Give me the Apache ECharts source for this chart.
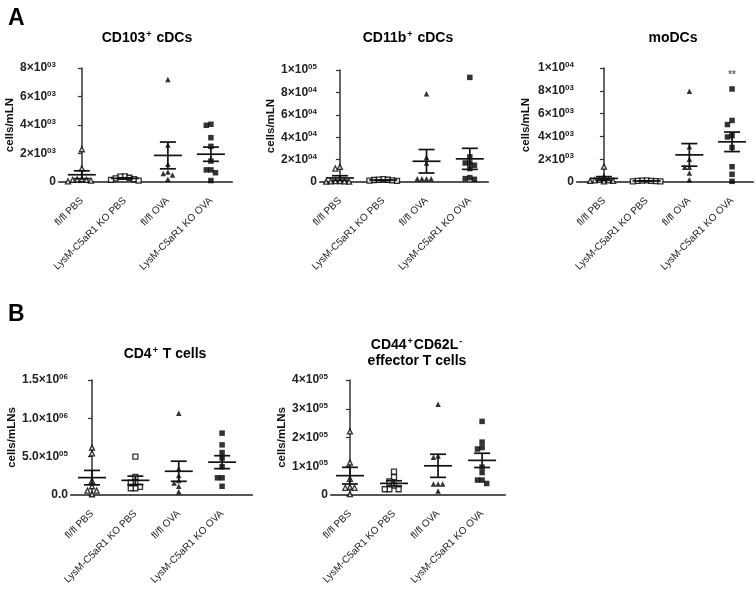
<!DOCTYPE html>
<html><head><meta charset="utf-8">
<script src="https://cdn.jsdelivr.net/npm/echarts@6/dist/echarts.min.js"></script>
<style>html,body{margin:0;padding:0;background:#fff}#c{width:756px;height:590px}</style>
</head><body><div id="c"></div><script>
// ---------- data ----------
const categories = ['fl/fl PBS', 'LysM-C5aR1 KO PBS', 'fl/fl OVA', 'LysM-C5aR1 KO OVA'];

const cd103_flPBS = [2300, 950, 200, 180, 150, 150, 100, 50];
const cd103_koPBS = [400, 380, 300, 250, 200, 150, 100];
const cd103_flOVA = [7200, 2600, 1250, 700, 600, 500, 200];
const cd103_koOVA = [4050, 3980, 3110, 2500, 1470, 850, 850, 650, 100];

const cd11b_flPBS = [13500, 12000, 800, 700, 600, 500, 400, 300];
const cd11b_koPBS = [2500, 2200, 2000, 1800, 1500, 1200, 1000];
const cd11b_flOVA = [78800, 21800, 17000, 3000, 3000, 3000, 3000];
const cd11b_koOVA = [93400, 22400, 17000, 17000, 15000, 12000, 3900, 3000, 2400];

const modc_flPBS = [1350, 450, 200, 150, 150, 100, 100, 50];
const modc_koPBS = [150, 120, 100, 100, 80, 60, 50];
const modc_flOVA = [7950, 3100, 2000, 1300, 1300, 800, 200];
const modc_koOVA = [8160, 5400, 5040, 4060, 3950, 3030, 1340, 680, 60];

const cd4_flPBS = [618000, 544000, 185000, 114000, 57000, 57000, 10000];
const cd4_koPBS = [500000, 237000, 160000, 160000, 105000, 88000, 88000];
const cd4_flOVA = [1066000, 342000, 254000, 190000, 158000, 114000, 44000];
const cd4_koOVA = [807000, 654000, 553000, 482000, 368000, 224000, 224000, 114000];

const eff_flPBS = [221000, 113000, 56000, 28000, 25000, 25000, 3000];
const eff_koPBS = [81000, 62000, 47000, 33000, 20000, 20000, 20000];
const eff_flOVA = [316000, 136000, 131000, 38000, 38000, 38000, 14000];
const eff_koOVA = [256000, 184000, 165000, 160000, 97000, 78000, 52000, 52000, 40000];

// y-axis ranges: max, interval, decimals in mantissa
const yMax = [8000, 100000, 10000, 1500000, 400000];
const yInterval = [2000, 20000, 2000, 500000, 100000];
const yDecimals = [0, 0, 0, 1, 0];

const titles = [
  '{n|CD103}{s|+}{n| cDCs}',
  '{n|CD11b}{s|+}{n| cDCs}',
  '{n|moDCs}',
  '{n|CD4}{s|+}{n| T cells}',
  '{n|CD44}{s|+}{n|CD62L}{s|-}\n{n|effector T cells}'
];
const yNames = ['cells/mLN', 'cells/mLN', 'cells/mLN', 'cells/mLNs', 'cells/mLNs'];
const significance = [{panel: 2, group: 3, text: '**'}];

const panelData = [
  [cd103_flPBS, cd103_koPBS, cd103_flOVA, cd103_koOVA],
  [cd11b_flPBS, cd11b_koPBS, cd11b_flOVA, cd11b_koOVA],
  [modc_flPBS, modc_koPBS, modc_flOVA, modc_koOVA],
  [cd4_flPBS, cd4_koPBS, cd4_flOVA, cd4_koOVA],
  [eff_flPBS, eff_koPBS, eff_flOVA, eff_koOVA]
];

// ---------- layout ----------
const layout = [
  {grid: {left: 59, top: 68, width: 173, height: 114}, xr: [-0.53, 3.49], nameGap: 43, tx: 142, ty: 25},
  {grid: {left: 320, top: 70, width: 168, height: 112}, xr: [-0.46, 3.42], nameGap: 38, tx: 403, ty: 25},
  {grid: {left: 577, top: 68, width: 176, height: 114}, xr: [-0.63, 3.49], nameGap: 45, tx: 668, ty: 25},
  {grid: {left: 71, top: 380, width: 181, height: 115}, xr: [-0.485, 3.69], nameGap: 39, tx: 160, ty: 341},
  {grid: {left: 331, top: 380, width: 174, height: 115}, xr: [-0.43, 3.52], nameGap: 39, tx: 412, ty: 332}
];

const FONT = '"Liberation Sans", Arial, sans-serif';
const symbols = ['triangle', 'rect', 'triangle', 'rect'];
const filled = [false, false, true, true];

function sci(v, dec) {
  if (v === 0) return dec ? '{b|0.0}' : '{b|0}';
  const e = Math.floor(Math.log10(v) + 1e-9);
  const m = v / Math.pow(10, e);
  const ms = dec ? m.toFixed(dec) : String(Math.round(m));
  return '{b|' + ms + '×10}{s|' + String(e).padStart(2, '0') + '}';
}

function meanSem(a) {
  const n = a.length;
  const m = a.reduce((s, v) => s + v, 0) / n;
  const sd = Math.sqrt(a.reduce((s, v) => s + (v - m) * (v - m), 0) / (n - 1));
  return [m, sd / Math.sqrt(n)];
}

function swarm(vals, gi, max, h, unitPx) {
  const DX = 4.6, DIST = 4.4;
  const placed = [];
  const cand = [0];
  for (let i = 1; i < 14; i++) cand.push(-i, i);
  vals.slice().sort((a, b) => b - a).forEach(v => {
    const py = v / max * h;
    for (const c of cand) {
      const px = c * DX;
      if (placed.every(p => Math.hypot(p.px - px, p.py - py) >= DIST)) {
        placed.push({v, px, py});
        break;
      }
    }
  });
  return placed.map(p => [gi + p.px / unitPx, p.v]);
}

const grids = [], xAxes = [], yAxes = [], series = [], titleList = [];

titleList.push({text: 'A', left: 3, top: 2, textStyle: {fontFamily: FONT, fontSize: 23, fontWeight: 'bold', color: '#000'}});
titleList.push({text: 'B', left: 3, top: 298, textStyle: {fontFamily: FONT, fontSize: 23, fontWeight: 'bold', color: '#000'}});

panelData.forEach((groups, pi) => {
  const L = layout[pi];
  grids.push(Object.assign({containLabel: false}, L.grid));
  titleList.push({
    text: titles[pi], left: L.tx, top: L.ty, textAlign: 'center',
    textStyle: {
      rich: {
        n: {fontFamily: FONT, fontSize: 14, fontWeight: 'bold', color: '#000', lineHeight: 16},
        s: {fontFamily: FONT, fontSize: 9, fontWeight: 'bold', color: '#000', verticalAlign: 'top', lineHeight: 16, padding: [0, 1, 6, 1]}
      }
    }
  });
  xAxes.push({
    type: 'value', gridIndex: pi, min: L.xr[0], max: L.xr[1],
    axisLine: {show: true, onZero: false, lineStyle: {color: '#555', width: 2.2}},
    axisTick: {show: false},
    splitLine: {show: false},
    axisLabel: {
      customValues: [0, 1, 2, 3], rotate: 45, margin: 17,
      fontFamily: FONT, fontSize: 10, color: '#222',
      formatter: v => categories[Math.round(v)] || ''
    }
  });
  yAxes.push({
    type: 'value', gridIndex: pi, min: 0, max: yMax[pi], interval: yInterval[pi],
    name: yNames[pi], nameLocation: 'middle', nameGap: L.nameGap, nameRotate: 90,
    nameTextStyle: {fontFamily: FONT, fontSize: 11.5, fontWeight: 'bold', color: '#111'},
    axisLine: {show: true, lineStyle: {color: '#333', width: 1.5}},
    axisTick: {show: true, length: 4, lineStyle: {color: '#333', width: 1.2}},
    splitLine: {show: false},
    axisLabel: {
      margin: 3,
      formatter: v => sci(v, yDecimals[pi]),
      rich: {
        b: {fontFamily: FONT, fontSize: 12, fontWeight: 'bold', color: '#222'},
        s: {fontFamily: FONT, fontSize: 8, fontWeight: 'bold', color: '#222', verticalAlign: 'top', padding: [0, 0, 6, 0]}
      }
    }
  });
  const unitPx = L.grid.width / (L.xr[1] - L.xr[0]);
  groups.forEach((vals, gi) => {
    series.push({
      type: 'scatter', xAxisIndex: pi, yAxisIndex: pi,
      symbol: symbols[gi], symbolSize: filled[gi] ? 5.5 : 5,
      itemStyle: filled[gi] ? {color: '#000'} : {color: '#fff', borderColor: '#000', borderWidth: 1.3},
      data: swarm(vals, gi, yMax[pi], L.grid.height, unitPx),
      silent: true, z: 2
    });
  });
  series.push({
    type: 'custom', xAxisIndex: pi, yAxisIndex: pi, z: 3, silent: true,
    data: groups.map((vals, gi) => { const ms = meanSem(vals); return [gi, ms[0], ms[1]]; }),
    renderItem: (params, api) => {
      const x = api.value(0), m = api.value(1), s = api.value(2);
      const c = api.coord([x, m]), t = api.coord([x, m + s]), b = api.coord([x, Math.max(0, m - s)]);
      const st = {stroke: '#111', lineWidth: 1.7};
      return {type: 'group', children: [
        {type: 'line', shape: {x1: c[0] - 14, y1: c[1], x2: c[0] + 14, y2: c[1]}, style: st},
        {type: 'line', shape: {x1: c[0], y1: t[1], x2: c[0], y2: b[1]}, style: st},
        {type: 'line', shape: {x1: c[0] - 8, y1: t[1], x2: c[0] + 8, y2: t[1]}, style: st},
        {type: 'line', shape: {x1: c[0] - 8, y1: b[1], x2: c[0] + 8, y2: b[1]}, style: st}
      ]};
    }
  });
});

significance.forEach(sg => {
  const vals = panelData[sg.panel][sg.group];
  series.push({
    type: 'scatter', xAxisIndex: sg.panel, yAxisIndex: sg.panel, symbol: 'circle', symbolSize: 1,
    itemStyle: {color: 'rgba(0,0,0,0)'}, silent: true, z: 4,
    data: [[sg.group, Math.max.apply(null, vals)]],
    label: {show: true, position: 'top', distance: 8, formatter: sg.text,
      fontFamily: FONT, fontSize: 10, fontWeight: 'bold', color: '#444'}
  });
});

const chart = echarts.init(document.getElementById('c'), null, {renderer: 'canvas'});
chart.setOption({
  backgroundColor: '#fff',
  animation: false,
  title: titleList,
  grid: grids,
  xAxis: xAxes,
  yAxis: yAxes,
  series: series
});
</script></body></html>
